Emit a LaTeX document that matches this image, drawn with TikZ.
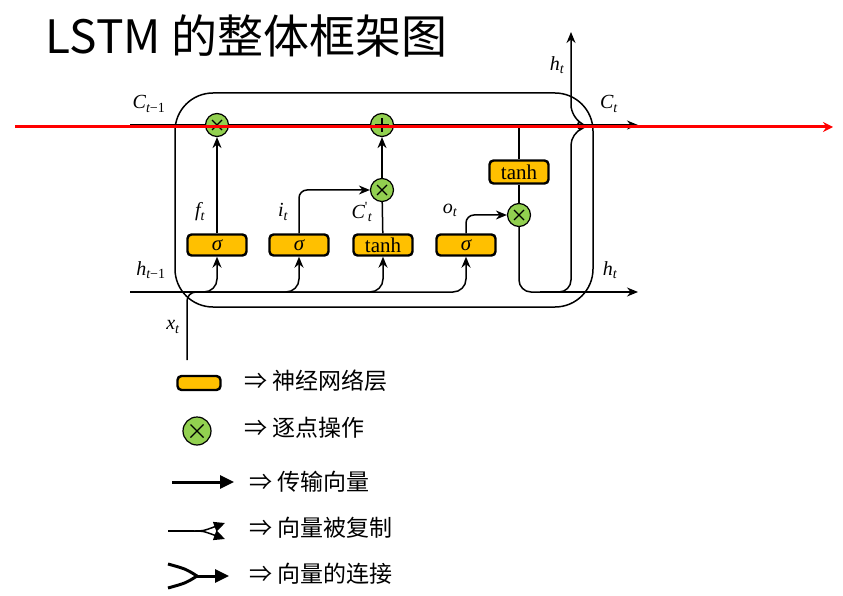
\documentclass[tikz,border=0pt]{standalone}
\usepackage{fontspec}
\newfontfamily\cjk{Noto Sans CJK SC}
\newfontfamily\tms{Liberation Serif}
\usetikzlibrary{arrows.meta,positioning}
\definecolor{gatecol}{HTML}{FFC000}
\definecolor{opcol}{HTML}{92D050}

\begin{document}
\begin{tikzpicture}[x=1pt,y=-1pt,>={Stealth[length=11pt,width=9pt]},line width=1.5pt,
 every node/.style={font=\tms\fontsize{21}{21}\selectfont},
 lbl/.style={font=\tms\itshape\fontsize{20}{20}\selectfont},
 gate/.style={draw,line width=2.4pt,fill=gatecol,rounded corners=4pt,minimum width=59pt,minimum height=21pt,inner sep=0pt},
 op/.style={draw,circle,fill=opcol,line width=1.2pt,minimum size=23pt,inner sep=0pt},
 mul/.default=5pt,
 mul/.style={op,path picture={\draw[line width=1.3pt]
   ([shift={(-#1,-#1)}]path picture bounding box.center) -- ([shift={(#1,#1)}]path picture bounding box.center)
   ([shift={(-#1,#1)}]path picture bounding box.center) -- ([shift={(#1,-#1)}]path picture bounding box.center);}},
 add/.style={op,path picture={\draw[line width=1.3pt]
   ([shift={(-7pt,0pt)}]path picture bounding box.center) -- ([shift={(7pt,0pt)}]path picture bounding box.center)
   ([shift={(0pt,-7pt)}]path picture bounding box.center) -- ([shift={(0pt,7pt)}]path picture bounding box.center);}},
 legend/.style={anchor=west,font=\cjk\fontsize{23}{23}\selectfont}]
 \useasboundingbox (0,0) rectangle (843,596);
 \node[anchor=base west,inner sep=0pt,font=\cjk\fontsize{46}{46}\selectfont] (title) at (45,54) {LSTM 的整体框架图};

 % cell
 \draw[rounded corners=38pt] (175,93) rectangle (593,307);
 \coordinate (cin) at (130,125);
 \coordinate (cout) at (638,125);
 \coordinate (hin) at (130,292);
 \coordinate (hout) at (638,292);
 \coordinate (xin) at (187,360);
 \coordinate (xjoin) at (205,292);
 \coordinate (ctap) at (519,125);
 \coordinate (hcorner) at (519,292);
 \coordinate (hsplit) at (571,292);
 \coordinate (hmid) at (540,292);
 \coordinate (htop) at (571,32);

 \node[gate] (fg) at (217,245) {\itshape σ};
 \node[gate] (ig) at (299,245) {\itshape σ};
 \node[gate] (cg) at (383,245) {tanh};
 \node[gate] (og) at (466,245) {\itshape σ};
 \node[gate,minimum height=23pt] (th) at (519,172) {tanh};
 \node[mul] (fmul) at (217,125) {};
 \node[add] (cadd) at (382,125) {};
 \node[mul] (imul) at (382,190) {};
 \node[mul] (omul) at (519,215) {};

 \draw (cin) -- (fmul);
 \draw (fmul) -- (cadd);
 \draw[->] (cadd) -- (cout);
 \foreach \g in {fg,ig,cg,og}
  \draw[->,rounded corners=13pt] (hin) -| (\g.south);
 \draw[rounded corners=9pt] (xin) |- (xjoin);
 \draw[->] (fg) -- (fmul);
 \draw[->,rounded corners=8pt] (ig.north) |- (imul);
 \draw (cg) -- (imul);
 \draw[->] (imul) -- (cadd);
 \draw[->,rounded corners=8pt] (og.north) |- (omul);
 \draw (ctap) -- (th);
 \draw (th) -- (omul);
 \draw[->,rounded corners=12pt] (omul) -- (hcorner) -- (hsplit) -- (571,133)
  .. controls (576,131) and (576,120) .. (571,117) -- (htop);
 \draw[->] (hmid) -- (hout);

 \node[lbl] (lcin) at (149,104) {C\textsubscript{t\upshape −1}};
 \node[lbl] (lcout) at (609,104) {C\textsubscript{t}};
 \node[lbl] (lhin) at (151,270) {h\textsubscript{t\upshape −1}};
 \node[lbl] (lhout) at (610,270) {h\textsubscript{t}};
 \node[lbl] (lhtop) at (557,65) {h\textsubscript{t}};
 \node[lbl] (lx) at (173,327) {x\textsubscript{t}};
 \node[lbl] (lf) at (200,212) {f\textsubscript{t}};
 \node[lbl] (li) at (283,212) {i\textsubscript{t}};
 \node[lbl,inner sep=1pt] (lc) at (362,212) {C\textsuperscript{\upshape '}\textsubscript{t}};
 \node[lbl] (lo) at (450,210) {o\textsubscript{t}};

 % red line
 \coordinate (rl) at (15,127);
 \coordinate (rr) at (833,127);
 \draw[red,line width=3pt,-{Stealth[length=10pt,width=10pt]}] (rl) -- (rr);

 % legend
 \node[gate,minimum width=43pt,minimum height=14pt] (lgate) at (199,383) {};
 \node[legend] (lgatet) at (240,381) {⇒ 神经网络层};
 \node[mul=6.5pt,minimum size=28pt] (lop) at (197,431) {};
 \node[legend] (lopt) at (240,428) {⇒ 逐点操作};
 \coordinate (la1) at (172,482);
 \coordinate (la2) at (234,482);
 \draw[line width=3pt,-{Triangle[length=14pt,width=13pt]}] (la1) -- (la2);
 \node[legend] (lat) at (245,482) {⇒ 传输向量};
 \coordinate (lc1) at (168,531);
 \coordinate (lc2) at (194,531);
 \coordinate (lc3) at (225,523);
 \coordinate (lc4) at (225,539);
 \draw (lc1) -- (lc2);
 \draw[-{Triangle[length=11pt,width=10pt]}] (lc2) .. controls (203,531) .. (lc3);
 \draw[-{Triangle[length=11pt,width=10pt]}] (lc2) .. controls (203,531) .. (lc4);
 \node[legend] (lct) at (245,528) {⇒ 向量被复制};
 \coordinate (lj1) at (168,564);
 \coordinate (lj2) at (168,588);
 \coordinate (lj3) at (197,576);
 \coordinate (lj4) at (229,576);
 \draw[line width=3pt] (lj1) .. controls (186,569) .. (lj3);
 \draw[line width=3pt] (lj2) .. controls (186,583) .. (lj3);
 \draw[line width=3pt,-{Triangle[length=14pt,width=13pt]}] (lj3) -- (lj4);
 \node[legend] (ljt) at (245,574) {⇒ 向量的连接};
\end{tikzpicture}
\end{document}
